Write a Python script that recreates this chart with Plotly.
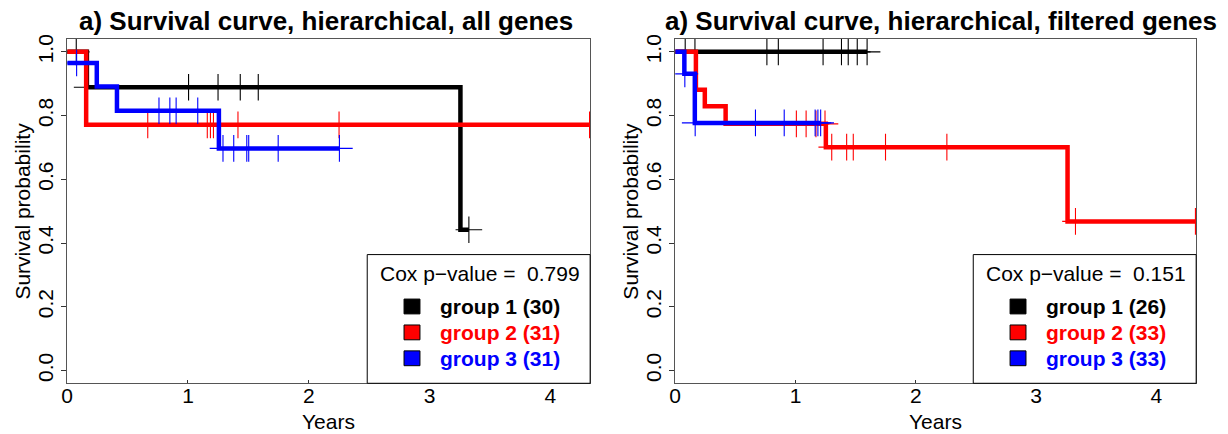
import plotly.graph_objects as go

# ---------------- data ----------------
# Kaplan-Meier step curves: times where the level changes, survival level from that time on,
# last follow-up time, and censoring times.

# a) hierarchical clustering, all genes
all_g1_times = [0.0, 0.163, 3.256]
all_g1_surv = [1.0, 0.889, 0.442]
all_g1_end = 3.326
all_g1_cens = [0.075, 0.165, 1.005, 1.249, 1.433, 1.582, 3.326]

all_g2_times = [0.0, 0.157]
all_g2_surv = [1.0, 0.771]
all_g2_end = 4.33
all_g2_cens = [0.667, 1.160, 1.186, 1.211, 1.414, 2.251, 4.325]

all_g3_times = [0.0, 0.245, 0.412, 1.256]
all_g3_surv = [0.965, 0.891, 0.815, 0.697]
all_g3_end = 2.254
all_g3_cens = [0.078, 0.760, 0.850, 0.902, 1.081, 1.290, 1.379, 1.487, 1.503, 1.747, 2.254]

# a) hierarchical clustering, filtered genes
flt_g1_times = [0.0]
flt_g1_surv = [1.0]
flt_g1_end = 1.595
flt_g1_cens = [0.083, 0.164, 0.762, 0.857, 1.229, 1.382, 1.438, 1.513, 1.595]

flt_g2_times = [0.0, 0.172, 0.246, 0.419, 1.252, 3.261]
flt_g2_surv = [1.0, 0.881, 0.829, 0.774, 0.701, 0.468]
flt_g2_end = 4.33
flt_g2_cens = [1.007, 1.088, 1.170, 1.245, 1.301, 1.425, 1.480, 1.748, 2.258, 3.327, 4.324]

flt_g3_times = [0.0, 0.076, 0.163]
flt_g3_surv = [1.0, 0.931, 0.777]
flt_g3_end = 1.209
flt_g3_cens = [0.080, 0.166, 0.667, 0.906, 1.163, 1.186, 1.209]

group_names = ["group 1", "group 2", "group 3"]
all_counts = [30, 31, 31]
flt_counts = [26, 33, 33]
cox_p = ["0.799", "0.151"]
titles = ["a) Survival curve, hierarchical, all genes",
          "a) Survival curve, hierarchical, filtered genes"]
x_ticks = [0, 1, 2, 3, 4]
y_ticks = [0.0, 0.2, 0.4, 0.6, 0.8, 1.0]

COLORS = ["#000000", "#FF0000", "#0000FF"]
FONT = "Liberation Sans, Arial, Helvetica, sans-serif"
W, H = 1228, 434


def level_at(times, surv, t):
    """Survival level of a step curve at time t."""
    lvl = surv[0]
    for ti, si in zip(times, surv):
        if ti <= t:
            lvl = si
    return lvl


def px(x):
    return x / W


def py(y):
    return 1 - y / H


fig = go.Figure()

panels = [
    ([(all_g1_times, all_g1_surv, all_g1_end, all_g1_cens),
      (all_g2_times, all_g2_surv, all_g2_end, all_g2_cens),
      (all_g3_times, all_g3_surv, all_g3_end, all_g3_cens)], "x", "y"),
    ([(flt_g1_times, flt_g1_surv, flt_g1_end, flt_g1_cens),
      (flt_g2_times, flt_g2_surv, flt_g2_end, flt_g2_cens),
      (flt_g3_times, flt_g3_surv, flt_g3_end, flt_g3_cens)], "x2", "y2"),
]

for curves, xa, ya in panels:
    for (times, surv, end, cens), col in zip(curves, COLORS):
        xs = list(times) + [end]
        ys = list(surv) + [surv[-1]]
        fig.add_trace(go.Scatter(
            x=xs, y=ys, mode="lines", line=dict(color=col, width=4.5, shape="hv"),
            xaxis=xa, yaxis=ya, showlegend=False, hoverinfo="skip"))
        fig.add_trace(go.Scatter(
            x=cens, y=[level_at(times, surv, t) for t in cens], mode="markers",
            marker=dict(symbol="cross-thin", size=19, color=col,
                        line=dict(color=col, width=1.1)),
            xaxis=xa, yaxis=ya, showlegend=False, hoverinfo="skip"))

# plot areas in pixels: left/right edges, top/bottom
areas = [(61.5, 587), (672.5, 1196)]
top, bottom = 34.5, 382.7

axis_common = dict(
    showgrid=False, zeroline=False, showline=True, mirror=True,
    linecolor="#555555", linewidth=1, tickcolor="#333333",
    tickfont=dict(family=FONT, size=21, color="black"),
)

for i, (l, r) in enumerate(areas):
    sx = "" if i == 0 else "2"
    fig.update_layout(**{
        f"xaxis{sx}": dict(domain=[px(l), px(r)], range=[0, 4.33], tickvals=x_ticks,
                           ticks="inside", ticklen=3, ticklabelstandoff=-6,
                           anchor=f"y{sx}", **axis_common),
        f"yaxis{sx}": dict(domain=[py(bottom), py(top)], range=[-0.04, 1.04],
                           tickvals=y_ticks, tickformat=".1f", tickangle=-90,
                           ticks="outside", ticklen=5, anchor=f"x{sx}", **axis_common),
    })

annotations = []
shapes = []
counts_all = [all_counts, flt_counts]
title_cx = [322, 940]
for i, (l, r) in enumerate(areas):
    # title
    annotations.append(dict(
        x=px(title_cx[i]), y=py(16), xref="paper", yref="paper", text=f"<b>{titles[i]}</b>",
        showarrow=False, xanchor="center", yanchor="middle",
        font=dict(family=FONT, size=26, color="black")))
    # axis titles
    annotations.append(dict(
        x=px((l + r) / 2), y=py(421.5), xref="paper", yref="paper", text="Years",
        showarrow=False, xanchor="center", yanchor="middle",
        font=dict(family=FONT, size=21, color="black")))
    annotations.append(dict(
        x=px(l - 45), y=py((top + bottom) / 2), xref="paper", yref="paper",
        text="Survival probability", textangle=-90, showarrow=False,
        xanchor="center", yanchor="middle",
        font=dict(family=FONT, size=21, color="black")))

    # legend box
    bl = r - 224
    shapes.append(dict(type="rect", xref="paper", yref="paper",
                       x0=px(bl), x1=px(r), y0=py(bottom), y1=py(252.5),
                       line=dict(color="black", width=1), fillcolor="white", layer="above"))
    annotations.append(dict(
        x=px(bl + 11), y=py(271.5), xref="paper", yref="paper",
        text=f"Cox p\u2212value =\u00a0\u00a0{cox_p[i]}", showarrow=False,
        xanchor="left", yanchor="middle",
        font=dict(family=FONT, size=21, color="black")))
    for k, (name, n, col) in enumerate(zip(group_names, counts_all[i], COLORS)):
        yc = 305 + k * 26.2
        shapes.append(dict(type="rect", xref="paper", yref="paper",
                           x0=px(bl + 37), x1=px(bl + 53), y0=py(yc + 7.5), y1=py(yc - 7.5),
                           line=dict(color="black", width=1), fillcolor=col, layer="above"))
        annotations.append(dict(
            x=px(bl + 71), y=py(yc), xref="paper", yref="paper",
            text=f"<b>{name} ({n})</b>", showarrow=False,
            xanchor="left", yanchor="middle",
            font=dict(family=FONT, size=21, color=col)))

fig.update_layout(
    width=W, height=H, margin=dict(l=0, r=0, t=0, b=0),
    paper_bgcolor="white", plot_bgcolor="white",
    annotations=annotations, shapes=shapes, showlegend=False,
)

fig.write_html("out.html")
